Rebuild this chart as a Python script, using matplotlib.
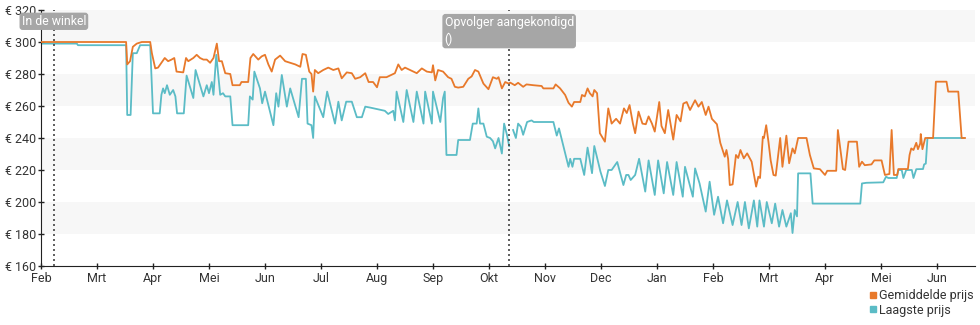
import numpy as np
import matplotlib
matplotlib.use("Agg")
import matplotlib.pyplot as plt
from matplotlib.lines import Line2D

plt.rcParams['font.family'] = ['Roboto', 'DejaVu Sans']

# month positions: 0 = Feb, 1 = Mrt, ... (equal spacing per month)
months = ['Feb', 'Mrt', 'Apr', 'Mei', 'Jun', 'Jul', 'Aug', 'Sep', 'Okt',
          'Nov', 'Dec', 'Jan', 'Feb', 'Mrt', 'Apr', 'Mei', 'Jun']
yticks = [160, 180, 200, 220, 240, 260, 280, 300, 320]

# Gemiddelde prijs
avg_x = [0, 1.52, 1.54, 1.59, 1.64, 1.71, 1.80, 1.95, 1.98, 2.04, 2.09, 2.15, 2.21, 2.27,
         2.33, 2.38, 2.42, 2.54, 2.59, 2.63, 2.72, 2.78, 2.84, 2.90, 2.96, 3.02, 3.08, 3.14,
         3.18, 3.23, 3.29, 3.38, 3.42, 3.55, 3.58, 3.70, 3.74, 3.79, 3.88, 3.94, 4.00, 4.06,
         4.12, 4.18, 4.27, 4.36, 4.45, 4.54, 4.63, 4.67, 4.73, 4.79, 4.83, 4.86, 4.89, 4.95,
         5.04, 5.13, 5.22, 5.31, 5.37, 5.46, 5.55, 5.61, 5.70, 5.79, 5.85, 5.93, 6.00, 6.05,
         6.17, 6.32, 6.38, 6.44, 6.50, 6.59, 6.71, 6.80, 6.89, 6.98, 7.00, 7.04, 7.09, 7.18,
         7.27, 7.33, 7.39, 7.45, 7.54, 7.63, 7.69, 7.75, 7.81, 7.90, 7.99, 8.07, 8.14, 8.17,
         8.23, 8.29, 8.35, 8.38, 8.46, 8.52, 8.61, 8.67, 8.79, 8.94, 8.97, 9.15, 9.19, 9.27,
         9.36, 9.42, 9.48, 9.52, 9.63, 9.66, 9.71, 9.76, 9.80, 9.85, 9.88, 9.93, 9.98, 10.07,
         10.13, 10.19, 10.27, 10.34, 10.41, 10.46, 10.51, 10.57, 10.61, 10.67, 10.74, 10.80,
         10.85, 10.91, 10.96, 11.04, 11.08, 11.14, 11.20, 11.29, 11.35, 11.42, 11.47, 11.53,
         11.59, 11.68, 11.74, 11.80, 11.87, 11.92, 11.98, 12.07, 12.13, 12.21, 12.24, 12.27,
         12.30, 12.35, 12.41, 12.45, 12.49, 12.55, 12.61, 12.69, 12.77, 12.81, 12.84, 12.89,
         12.91, 12.95, 12.99, 13.03, 13.08, 13.12, 13.20, 13.24, 13.31, 13.36, 13.42, 13.46,
         13.52, 13.67, 13.73, 13.80, 13.91, 14.00, 14.04, 14.20, 14.23, 14.32, 14.36, 14.42,
         14.57, 14.61, 14.66, 14.71, 14.83, 14.88, 15.01, 15.07, 15.15, 15.19, 15.23, 15.29,
         15.31, 15.48, 15.51, 15.54, 15.58, 15.63, 15.66, 15.70, 15.71, 15.74, 15.79, 15.93,
         15.98, 16.17, 16.20, 16.38, 16.44, 16.50]
avg_y = [300, 300, 286, 288, 297, 299, 300, 300, 293, 283.5, 284, 287, 290, 288,
         289, 290, 281.5, 281, 290, 288, 290, 292, 290, 289, 289, 287, 290, 299,
         288, 288, 280.5, 280, 273, 273, 275, 275, 290, 292.5, 289, 291, 292, 286,
         281.5, 289, 291.5, 288, 287, 286, 284.5, 292.5, 292, 281.5, 280, 269, 282.5, 280.5,
         282.5, 284, 282.5, 283.5, 277.3, 281, 280.5, 277, 278, 280.5, 275, 275, 271.7, 278,
         278, 280.5, 286, 282.5, 284, 282.5, 280.5, 283.5, 281.5, 281, 285.5, 276, 282.5, 281.5,
         278, 277, 272, 271.5, 272, 277, 278.5, 282.5, 281.5, 274, 270.5, 278, 277, 278,
         271, 275, 274, 274.6, 273, 274.5, 272, 273.5, 273, 272.5, 271, 271, 273.5, 271,
         266.9, 262, 259.6, 262.5, 262.5, 266.9, 266, 271, 268, 266, 270, 268, 243, 237.7,
         258.5, 249, 252, 249, 258.5, 255.6, 260.6, 249, 243, 256.5, 249, 248.6,
         253.5, 249, 244, 262.5, 247.5, 243, 257.5, 239, 254.4, 250.4, 261.5, 262.5,
         257.5, 263.6, 259.6, 262.5, 254.4, 259.6, 252, 248.6, 237, 228.3, 232.5, 227,
         210.6, 211, 229.4, 227.5, 232.5, 227.3, 230.4, 225.2, 209.6, 215.8, 215, 240.8,
         240, 248, 237.7, 226, 216.9, 216.5, 240, 222, 241.5, 224.2, 233.5, 230.4,
         240, 240, 229.4, 221, 220.5, 216.9, 219.5, 219.5, 245, 220.6, 220, 237.7,
         237.7, 222, 225.2, 223, 223.5, 226, 226, 216.9, 217.5, 245, 216.9, 216.9,
         220.6, 220.6, 229.4, 233.5, 232.5, 237, 233, 236.5, 242.5, 233, 240, 240,
         275.2, 275.2, 269, 269, 240, 240]

# Laagste prijs (nan = no data)
low_x = [0, 0.64, 0.66, 1.52, 1.54, 1.60, 1.64, 1.71, 1.77, 1.95, 2.00, 2.12, 2.15, 2.18,
         2.21, 2.25, 2.30, 2.36, 2.40, 2.43, 2.55, 2.60, 2.72, 2.76, 2.90, 2.96, 3.00, 3.05,
         3.08, 3.13, 3.20, 3.25, 3.29, 3.38, 3.42, 3.70, 3.73, 3.78, 3.81, 3.91, 3.95, 4.00,
         4.15, 4.20, 4.24, 4.30, 4.39, 4.45, 4.60, 4.66, 4.73, 4.76, 4.83, 4.86, 4.89, 5.04,
         5.11, 5.25, 5.31, 5.37, 5.45, 5.55, 5.64, 5.73, 5.79, 5.88, 6.14, 6.20, 6.29, 6.32,
         6.35, 6.47, 6.53, 6.65, 6.71, 6.83, 6.86, 6.98, 7.00, 7.13, 7.18, 7.21, 7.24, 7.42,
         7.45, 7.66, 7.71, 7.78, 7.81, 7.84, 7.90, 7.96, 8.02, 8.07, 8.11, 8.17, 8.23, 8.27,
         8.32, 8.36, 8.40, 8.43, 8.48, 8.52, 8.57, 8.61, 8.68, 8.76, 8.80, 9.15, 9.21, 9.25,
         9.36, 9.42, 9.45, 9.49, 9.52, 9.63, 9.70, 9.76, 9.84, 9.88, 9.99, 10.07, 10.13, 10.19,
         10.29, 10.40, 10.45, 10.49, 10.53, 10.61, 10.68, 10.79, 10.85, 10.96, 11.02, 11.12,
         11.18, 11.29, 11.35, 11.46, 11.50, 11.64, 11.68, 11.76, 11.87, 11.94, 12.02, 12.09,
         12.18, 12.25, 12.35, 12.44, 12.51, 12.57, 12.64, 12.73, 12.79, 12.83, 12.91, 12.96,
         13.05, 13.11, 13.18, 13.24, 13.31, 13.39, 13.42, 13.46, 13.50, 13.52, 13.74, 13.78,
         14.63, 14.66, 14.74, 15.04, 15.09, 15.13, 15.28, 15.31, 15.37, 15.40, 15.45, 15.55,
         15.58, 15.63, 15.75, 15.77, 15.80, 15.83, 16.48]
low_y = [299, 299, 298, 298, 254.4, 254.4, 293, 293, 298, 298, 255.4, 255.4, 267, 271,
         268, 273, 267, 270, 266, 255.4, 255.4, 279, 265, 282.5, 266, 273, 268, 275,
         267, 292, 267, 268, 266, 266, 248, 248, 266, 264, 281.5, 271, 261.7, 269,
         248, 268, 259.6, 279.4, 259.6, 271, 253, 277, 277, 249, 248, 240, 266, 253,
         269, 249, 262.7, 251, 262.7, 262.7, 253, 253, 259.6, 259, 257, 255, 257, 251,
         269, 250, 270, 250, 269, 249, 269, 249, 269, 250, 265, 269, 229.4, 229.4,
         238.75, 238.75, 249, 249, 258.5, 249, 249, 240.8, 240, 238, 233.5, 240, 230.3, 249,
         242, 235, np.nan, 245, 240, 249, 247, 242, 250, 251, 250, 250, 241.5, 246,
         230.4, 222, 227, 222, 227, 227, 216.9, 234, 218, 235, 219, 210, 220, 220,
         225, 210.6, 216.9, 216.9, 213.75, 216.9, 227, 206.5, 226, 204.4, 226, 205.4,
         225, 204.4, 225, 203.3, 222, 203.3, 221, 211.6, 194, 212.7, 192, 203.3,
         186.7, 201, 185.6, 200, 185.6, 200, 183.5, 201, 184.6, 201, 184.6, 200,
         186.7, 199, 184.6, 195, 184.6, 193, 180.6, 195, 191, 217.9, 217.9, 199,
         199, 211.6, 212, 212.3, 215.8, 215, 215, 220, 220, 215, 220, 220,
         215, 220.5, 220.6, 223.5, 224, 240, 240]

events_x = [0.23, 8.36]
events_label = ['In de winkel', 'Opvolger aangekondigd\n()']
events_top = [317.0, 316.2]

orange = '#e8792b'
teal = '#5bbcc6'

fig = plt.figure(figsize=(9.8, 3.25), dpi=100)
ax = fig.add_axes([41 / 980, 1 - 266 / 325, 934 / 980, 256 / 325])

# alternating background bands
for i in range(len(yticks) - 1):
    if i % 2 == 1:
        ax.axhspan(yticks[i], yticks[i + 1], color='#f7f7f7', lw=0, zorder=0)

ax.plot(avg_x, avg_y, color=orange, lw=1.3, zorder=3)
ax.plot(low_x, low_y, color=teal, lw=1.3, zorder=2)

for ex, lab, top in zip(events_x, events_label, events_top):
    ax.axvline(ex, color='#444444', ls=(0, (1.2, 1.8)), lw=1.2, zorder=4)
    ax.text(ex, top, lab, ha='center', va='top', ma='left', color='white',
            fontsize=8.8, zorder=5, linespacing=1.35,
            bbox=dict(boxstyle='round,pad=0.12,rounding_size=0.2',
                      fc='#a6a6a6', ec='#a6a6a6'))

ax.set_xlim(0, 934 / 56)
ax.set_ylim(160, 320)
ax.set_xticks(range(len(months)))
ax.set_xticklabels(months)
ax.set_yticks(yticks)
ax.set_yticklabels(['€ %d' % v for v in yticks])
ax.tick_params(axis='both', direction='inout', length=5, width=1, colors='#222222',
               labelsize=9, labelcolor='#333333', pad=1)
ax.tick_params(axis='x', pad=1.5)
for side in ['top', 'right']:
    ax.spines[side].set_visible(False)
ax.spines['left'].set_color('#222222')
ax.spines['bottom'].set_color('#222222')

handles = [Line2D([], [], marker='s', ls='', color=orange, markersize=5),
           Line2D([], [], marker='s', ls='', color=teal, markersize=5)]
fig.legend(handles, ['Gemiddelde prijs', 'Laagste prijs'], loc='upper right',
           bbox_to_anchor=(0.995, 0.115), frameon=False, fontsize=9,
           handlelength=0.6, handletextpad=0.2, labelspacing=0.15,
           borderaxespad=0, borderpad=0.1, labelcolor='#333333')

fig.savefig('out.png', dpi=100)
